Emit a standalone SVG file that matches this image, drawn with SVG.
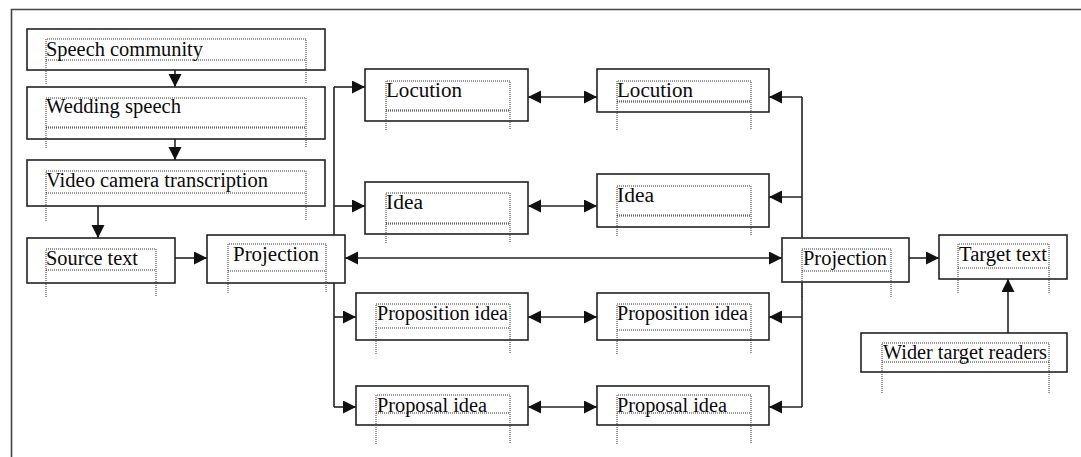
<svg xmlns="http://www.w3.org/2000/svg" width="1081" height="457" viewBox="0 0 1081 457">
<style>
.box{fill:#fff;stroke:#222;stroke-width:1.6}
.dot{fill:none;stroke:#333;stroke-width:1;stroke-dasharray:1 1}
.t{font-family:"Liberation Serif","Times New Roman",serif;font-size:20px;fill:#0a0a0a}
.c{fill:none;stroke:#222;stroke-width:1.6}
</style>
<defs>
<marker id="a" markerUnits="userSpaceOnUse" markerWidth="14" markerHeight="14" refX="13" refY="6.5" orient="auto-start-reverse">
<path d="M0,0 L13,6.5 L0,13 z" fill="#111"/>
</marker>
</defs>
<rect width="1081" height="457" fill="#fff"/>
<path d="M11.5,457 V9.5 H1081" fill="none" stroke="#444" stroke-width="1.6"/>
<g id="connectors">
<path class="c" d="M175,70 V87" marker-end="url(#a)"/>
<path class="c" d="M175,139 V160" marker-end="url(#a)"/>
<path class="c" d="M98,206 V238" marker-end="url(#a)"/>
<path class="c" d="M175,258 H207" marker-end="url(#a)"/>
<path class="c" d="M334,87 V407"/>
<path class="c" d="M334,87 H365" marker-end="url(#a)"/>
<path class="c" d="M334,206 H365" marker-end="url(#a)"/>
<path class="c" d="M334,317 H356" marker-end="url(#a)"/>
<path class="c" d="M334,407 H356" marker-end="url(#a)"/>
<path class="c" d="M528,97 H597" marker-start="url(#a)" marker-end="url(#a)"/>
<path class="c" d="M528,206 H597" marker-start="url(#a)" marker-end="url(#a)"/>
<path class="c" d="M528,317 H597" marker-start="url(#a)" marker-end="url(#a)"/>
<path class="c" d="M528,407 H597" marker-start="url(#a)" marker-end="url(#a)"/>
<path class="c" d="M802,97 V407"/>
<path class="c" d="M802,97 H769" marker-end="url(#a)"/>
<path class="c" d="M802,197 H769" marker-end="url(#a)"/>
<path class="c" d="M802,317 H769" marker-end="url(#a)"/>
<path class="c" d="M802,407 H769" marker-end="url(#a)"/>
<path class="c" d="M345,258 H782" marker-start="url(#a)" marker-end="url(#a)"/>
<path class="c" d="M909,258 H939" marker-end="url(#a)"/>
<path class="c" d="M1008,333 V279" marker-end="url(#a)"/>
</g>
<g id="speech-community">
<rect class="box" x="27" y="29" width="298" height="41"/>
<path class="dot" d="M46,84 V39 H306 V84 M46,60 H306"/>
<text class="t" x="46" y="56" textLength="157" lengthAdjust="spacingAndGlyphs">Speech community</text>
</g>
<g id="wedding-speech">
<rect class="box" x="27" y="87" width="298" height="52"/>
<path class="dot" d="M46,148 V98 H306 V148 M46,127 H306 M46,128 H306"/>
<text class="t" x="46" y="113" textLength="135" lengthAdjust="spacingAndGlyphs">Wedding speech</text>
</g>
<g id="video-camera">
<rect class="box" x="27" y="160" width="298" height="46"/>
<path class="dot" d="M46,221 V171 H306 V221 M46,193 H306"/>
<text class="t" x="46" y="187" textLength="222" lengthAdjust="spacingAndGlyphs">Video camera transcription</text>
</g>
<g id="source-text">
<rect class="box" x="27" y="238" width="148" height="45"/>
<path class="dot" d="M46,297 V249 H156 V297 M46,270 H156"/>
<text class="t" x="46" y="265" textLength="92" lengthAdjust="spacingAndGlyphs">Source text</text>
</g>
<g id="projection-left">
<rect class="box" x="207" y="235" width="138" height="48"/>
<path class="dot" d="M228,293 V244 H326 V293 M228,271 H326"/>
<text class="t" x="233" y="261" textLength="86" lengthAdjust="spacingAndGlyphs">Projection</text>
</g>
<g id="locution-left">
<rect class="box" x="365" y="69" width="163" height="52"/>
<path class="dot" d="M386,130 V81 H510 V130 M386,110 H510 M386,111 H510"/>
<text class="t" x="386" y="97" textLength="76" lengthAdjust="spacingAndGlyphs">Locution</text>
</g>
<g id="locution-right">
<rect class="box" x="597" y="69" width="172" height="43"/>
<path class="dot" d="M617,130 V81 H751 V130 M617,101 H751 M617,102 H751"/>
<text class="t" x="617" y="97" textLength="76" lengthAdjust="spacingAndGlyphs">Locution</text>
</g>
<g id="idea-left">
<rect class="box" x="365" y="182" width="163" height="52"/>
<path class="dot" d="M386,243 V193 H510 V243 M386,223 H510 M386,224 H510"/>
<text class="t" x="386" y="209" textLength="37" lengthAdjust="spacingAndGlyphs">Idea</text>
</g>
<g id="idea-right">
<rect class="box" x="597" y="174" width="172" height="53"/>
<path class="dot" d="M617,236 V186 H751 V236 M617,215 H751 M617,216 H751"/>
<text class="t" x="617" y="202" textLength="37" lengthAdjust="spacingAndGlyphs">Idea</text>
</g>
<g id="proposition-left">
<rect class="box" x="356" y="293" width="172" height="47"/>
<path class="dot" d="M376,354 V304 H510 V354 M376,328 H510"/>
<text class="t" x="377" y="320" textLength="131" lengthAdjust="spacingAndGlyphs">Proposition idea</text>
</g>
<g id="proposition-right">
<rect class="box" x="597" y="293" width="172" height="47"/>
<path class="dot" d="M617,354 V304 H751 V354 M617,330 H751"/>
<text class="t" x="617" y="320" textLength="131" lengthAdjust="spacingAndGlyphs">Proposition idea</text>
</g>
<g id="proposal-left">
<rect class="box" x="356" y="386" width="172" height="39"/>
<path class="dot" d="M376,444 V395 H510 V444 M376,413 H510"/>
<text class="t" x="377" y="412" textLength="110" lengthAdjust="spacingAndGlyphs">Proposal idea</text>
</g>
<g id="proposal-right">
<rect class="box" x="597" y="386" width="172" height="39"/>
<path class="dot" d="M617,444 V395 H751 V444 M617,413 H751"/>
<text class="t" x="617" y="412" textLength="110" lengthAdjust="spacingAndGlyphs">Proposal idea</text>
</g>
<g id="projection-right">
<rect class="box" x="782" y="238" width="127" height="44"/>
<path class="dot" d="M802,297 V249 H891 V297 M802,271 H891"/>
<text class="t" x="803" y="265" textLength="84" lengthAdjust="spacingAndGlyphs">Projection</text>
</g>
<g id="target-text">
<rect class="box" x="939" y="235" width="128" height="44"/>
<path class="dot" d="M958,293 V244 H1049 V293 M958,268 H1049"/>
<text class="t" x="959" y="261" textLength="88" lengthAdjust="spacingAndGlyphs">Target text</text>
</g>
<g id="wider-target-readers">
<rect class="box" x="861" y="333" width="206" height="39"/>
<path class="dot" d="M882,393 V343 H1049 V393 M882,362 H1049"/>
<text class="t" x="883" y="359" textLength="164" lengthAdjust="spacingAndGlyphs">Wider target readers</text>
</g>
</svg>
